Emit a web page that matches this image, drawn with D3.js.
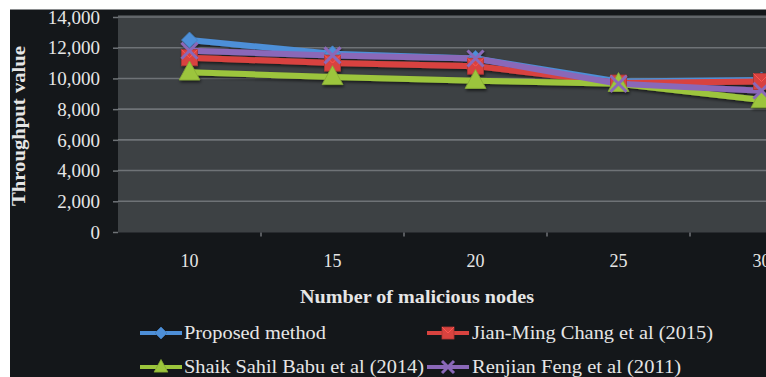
<!DOCTYPE html>
<html><head><meta charset="utf-8">
<script src="https://cdn.jsdelivr.net/npm/d3@7"></script>
<style>
html,body{margin:0;padding:0;background:#fff;overflow:hidden;}
svg{display:block;}
</style></head>
<body>
<svg id="chart" width="766" height="377"></svg>
<script>
const categories = ["10","15","20","25","30"];
const proposed  = [12500, 11600, 11300, 9800, 9900];
const jianMing  = [11350, 11000, 10800, 9700, 9800];
const shaik     = [10400, 10100, 9850, 9650, 8600];
const renjian   = [11800, 11500, 11300, 9650, 9200];
const yTicks = [0,2000,4000,6000,8000,10000,12000,14000];
const seriesNames = ["Proposed method","Jian-Ming Chang et al (2015)","Shaik Sahil Babu et al (2014)","Renjian Feng et al (2011)"];
const seriesColors = ["#4d8fd8","#d8433f","#9cc53c","#8a68b8"];
const seriesShapes = ["diamond","square","triangle","x"];
const seriesValues = [proposed, jianMing, shaik, renjian];

const svg = d3.select("#chart");
svg.append("rect").attr("x",0).attr("y",0).attr("width",766).attr("height",377).attr("fill","#ffffff");
svg.append("rect").attr("x",10).attr("y",9).attr("width",756).attr("height",368).attr("fill","#14171a");
svg.append("line").attr("x1",10).attr("x2",766).attr("y1",9.5).attr("y2",9.5).attr("stroke","#8a8c8e").attr("stroke-width",1);

const plotL = 118, plotT = 15, plotB = 232.5, band = 143;
const x = d3.scaleBand().domain(categories).range([plotL, plotL + band*categories.length]).paddingInner(0).paddingOuter(0);
const y = d3.scaleLinear().domain([0,14000]).range([232, 17]);

const defs = svg.append("defs");
const f = defs.append("filter").attr("id","sh").attr("x","-20%").attr("y","-50%").attr("width","140%").attr("height","200%");
f.append("feDropShadow").attr("dx",1).attr("dy",2).attr("stdDeviation",1.5).attr("flood-color","#000").attr("flood-opacity",0.6);

svg.append("rect").attr("x",plotL).attr("y",plotT).attr("width",766-plotL).attr("height",plotB-plotT).attr("fill","#3d4144");

svg.append("g").selectAll("line").data(yTicks.slice(1)).join("line")
  .attr("x1",plotL).attr("x2",766).attr("y1",d=>y(d)).attr("y2",d=>y(d))
  .attr("stroke","#6f7377").attr("stroke-width",1.6);

const yAxis = d3.axisLeft(y).tickValues(yTicks).tickSize(5).tickPadding(12).tickFormat(d3.format(","));
const ya = svg.append("g").attr("transform",`translate(${plotL},0)`).call(yAxis);
ya.select(".domain").remove();
ya.selectAll(".tick line").attr("stroke","#6f7377").attr("stroke-width",1.5);
ya.selectAll("text").attr("fill","#e6e6e6").attr("font-family","Liberation Serif, Times New Roman, serif").attr("font-size","19px").attr("dx","-1").attr("dy","0.33em");

const xAxis = d3.axisBottom(x).tickSize(0).tickPadding(22);
const xa = svg.append("g").attr("transform",`translate(0,${plotB})`).call(xAxis);
xa.select(".domain").remove();
xa.selectAll("text").attr("fill","#e6e6e6").attr("font-family","Liberation Serif, Times New Roman, serif").attr("font-size","18px");
svg.append("g").selectAll("line").data(categories.slice(1)).join("line")
  .attr("x1",d=>x(d)).attr("x2",d=>x(d)).attr("y1",plotB).attr("y2",plotB+4)
  .attr("stroke","#6f7377").attr("stroke-width",1.5);

svg.append("text").attr("transform","translate(25,126) rotate(-90)").attr("text-anchor","middle")
  .attr("fill","#e6e6e6").attr("font-family","Liberation Serif, Times New Roman, serif").attr("font-weight","bold").attr("font-size","18px")
  .attr("textLength",160).attr("lengthAdjust","spacingAndGlyphs")
  .text("Throughput value");
svg.append("text").attr("x",417).attr("y",303).attr("text-anchor","middle")
  .attr("fill","#e6e6e6").attr("font-family","Liberation Serif, Times New Roman, serif").attr("font-weight","bold").attr("font-size","18px")
  .attr("textLength",234).attr("lengthAdjust","spacingAndGlyphs")
  .text("Number of malicious nodes");

function marker(g, shape, color, cx, cy, s){
  if(shape==="diamond"){
    g.append("path").attr("d",`M${cx},${cy-s}L${cx+s},${cy}L${cx},${cy+s}L${cx-s},${cy}Z`).attr("fill",color).attr("stroke",d3.color(color).darker(0.4)).attr("stroke-width",0.8);
  } else if(shape==="square"){
    g.append("rect").attr("x",cx-s).attr("y",cy-s).attr("width",2*s).attr("height",2*s).attr("fill",color).attr("stroke",d3.color(color).darker(0.6)).attr("stroke-width",0.8);
    g.append("path").attr("d",`M${cx-s},${cy-s}L${cx},${cy}L${cx+s},${cy-s}`).attr("fill","none").attr("stroke",d3.color(color).brighter(0.7)).attr("stroke-width",1);
  } else if(shape==="triangle"){
    g.append("path").attr("d",`M${cx},${cy-s*1.25}L${cx+s*1.15},${cy+s*0.85}L${cx-s*1.15},${cy+s*0.85}Z`).attr("fill",color).attr("stroke",d3.color(color).darker(0.4)).attr("stroke-width",0.8);
  } else {
    g.append("path").attr("d",`M${cx-s},${cy-s}L${cx+s},${cy+s}M${cx+s},${cy-s}L${cx-s},${cy+s}`).attr("stroke",color).attr("stroke-width",3).attr("fill","none");
  }
}

const sizes = [8,8,9,8];
const line = d3.line().x((d,i)=>x(categories[i])+x.bandwidth()/2).y(d=>y(d));
const sg = svg.append("g").attr("filter","url(#sh)");
seriesValues.forEach((vals,k)=>{
  sg.append("path").datum(vals).attr("d",line).attr("fill","none")
    .attr("stroke",seriesColors[k]).attr("stroke-width",6).attr("stroke-linejoin","round");
});
seriesValues.forEach((vals,k)=>{
  const g = sg.append("g");
  vals.forEach((v,i)=>marker(g, seriesShapes[k], seriesColors[k], x(categories[i])+x.bandwidth()/2, y(v), sizes[k]));
});

const legendPos = [[140,184,333,142],[427,472,333,241],[140,184,367,240],[427,472,367,209]];
const lg = svg.append("g");
seriesNames.forEach((n,k)=>{
  const [lx,tx,ly,tl] = legendPos[k];
  lg.append("line").attr("x1",lx).attr("x2",lx+42).attr("y1",ly).attr("y2",ly).attr("stroke",seriesColors[k]).attr("stroke-width",4);
  marker(lg, seriesShapes[k], seriesColors[k], lx+21, ly, 6);
  lg.append("text").attr("x",tx).attr("y",ly+6).attr("fill","#e6e6e6")
    .attr("font-family","Liberation Serif, Times New Roman, serif").attr("font-size","18px")
    .attr("textLength",tl).attr("lengthAdjust","spacingAndGlyphs").text(n);
});
</script>
</body></html>
